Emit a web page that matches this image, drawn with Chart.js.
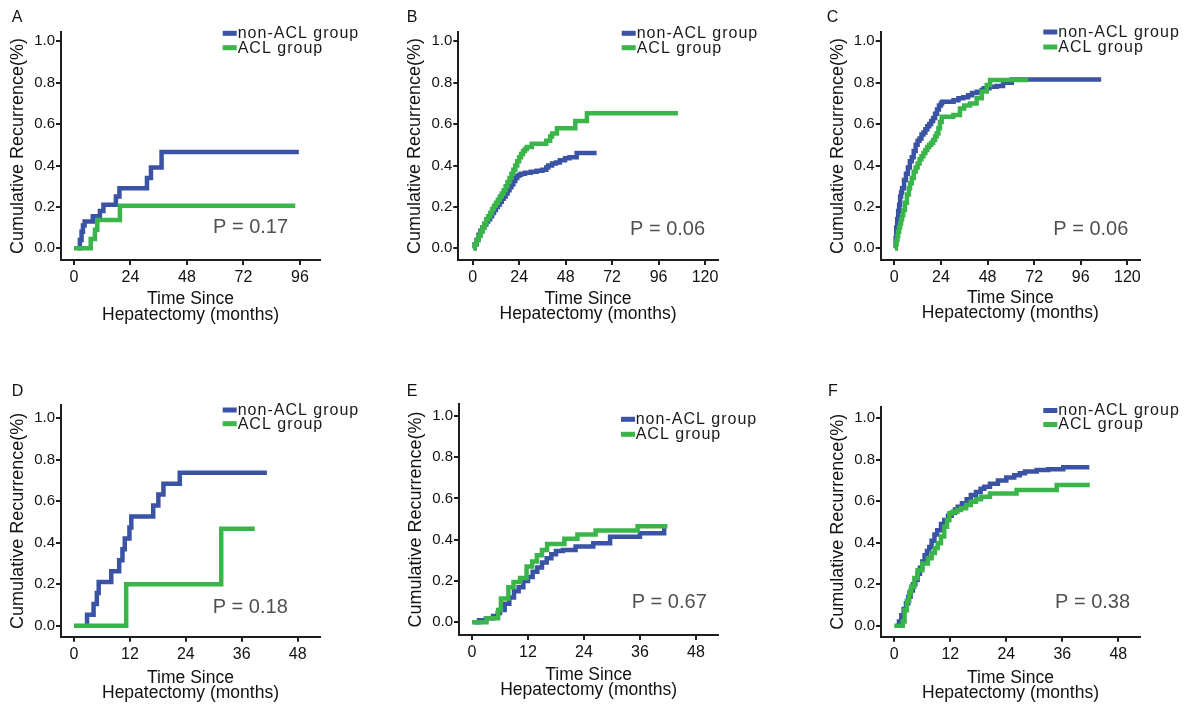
<!DOCTYPE html>
<html><head><meta charset="utf-8">
<script src="https://cdn.jsdelivr.net/npm/chart.js@4.4.1/dist/chart.umd.min.js"></script>
<style>
html,body{margin:0;padding:0;background:#fff;}
#wrap{position:relative;width:1194px;height:704px;overflow:hidden;background:#fff;}
#wrap canvas{position:absolute;left:0;top:0;}
</style></head><body><div id="wrap"></div>
<script>
// ---------- DATA ----------
const legendLabels = ['non-ACL group', 'ACL group'];
const panelLetters = ['A', 'B', 'C', 'D', 'E', 'F'];
const pValueLabels = ['P = 0.17', 'P = 0.06', 'P = 0.06', 'P = 0.18', 'P = 0.67', 'P = 0.38'];
const yTickValues = [0, 0.2, 0.4, 0.6, 0.8, 1.0];
const yTickLabels = ['0.0', '0.2', '0.4', '0.6', '0.8', '1.0'];
const xTicksA = [0, 24, 48, 72, 96];
const xTicksBC = [0, 24, 48, 72, 96, 120];
const xTicksDEF = [0, 12, 24, 36, 48];
const yTitleText = 'Cumulative Recurrence(%)';
const xTitleText = ['Time Since', 'Hepatectomy (months)'];

// Panel A
const aNonTime = [1.8, 2.5, 3.2, 3.8, 4.5, 8, 11, 12.5, 17.8, 19.3, 31, 32.7, 37.2, 95.5];
const aNonRec  = [0, 0.04, 0.08, 0.11, 0.13, 0.155, 0.18, 0.21, 0.25, 0.29, 0.34, 0.39, 0.465, 0.465];
const aAclTime = [0, 7.1, 8.9, 9.9, 19.5, 94];
const aAclRec  = [0, 0.045, 0.09, 0.137, 0.205, 0.205];

// Panel B
const bNonTime = [0.5, 1, 2, 3, 4, 5, 6, 7, 8, 9, 10, 11, 12, 13, 14, 15, 16, 17, 18, 19, 20, 21, 22, 23, 24, 25, 27, 30, 33, 36, 38, 39, 41, 43, 45, 47.7, 50, 53.7, 64];
const bNonRec  = [0, 0.02, 0.04, 0.065, 0.085, 0.1, 0.115, 0.13, 0.14, 0.155, 0.17, 0.185, 0.2, 0.212, 0.225, 0.24, 0.25, 0.265, 0.28, 0.295, 0.31, 0.325, 0.34, 0.35, 0.355, 0.36, 0.365, 0.37, 0.375, 0.38, 0.39, 0.40, 0.41, 0.415, 0.425, 0.435, 0.44, 0.46, 0.46];
const bAclTime = [0.3, 1, 2, 3, 4, 5, 6, 7, 8, 9, 10, 11, 12, 13, 14, 15, 16, 17, 18, 19, 20, 21, 22, 23, 24, 25, 26, 27, 28, 30.5, 38, 40, 41, 43.5, 53, 59, 106];
const bAclRec  = [0, 0.02, 0.04, 0.06, 0.08, 0.1, 0.12, 0.14, 0.155, 0.17, 0.19, 0.205, 0.22, 0.235, 0.25, 0.265, 0.28, 0.30, 0.32, 0.34, 0.36, 0.38, 0.40, 0.42, 0.44, 0.455, 0.47, 0.48, 0.49, 0.505, 0.52, 0.54, 0.555, 0.58, 0.615, 0.652, 0.652];

// Panel C
const cNonTime = [0.4, 0.7, 1.0, 1.5, 2, 2.5, 3, 3.5, 4, 5, 6, 7, 8, 9, 10, 11, 12, 13, 14, 15, 16, 17, 18, 19, 20, 21, 22, 23, 24, 24.6, 30.5, 33, 35.5, 38, 40, 42.5, 45, 46, 49, 52.7, 56, 60.5, 106.5];
const cNonRec  = [0, 0.05, 0.1, 0.14, 0.18, 0.21, 0.25, 0.27, 0.29, 0.33, 0.36, 0.39, 0.42, 0.44, 0.47, 0.50, 0.52, 0.53, 0.55, 0.56, 0.575, 0.59, 0.60, 0.615, 0.63, 0.65, 0.67, 0.69, 0.70, 0.708, 0.715, 0.725, 0.73, 0.74, 0.75, 0.756, 0.765, 0.773, 0.78, 0.784, 0.80, 0.815, 0.815];
const cAclTime = [0.4, 0.8, 1.2, 1.6, 2, 2.5, 3, 3.5, 4, 4.6, 5.5, 6.5, 7.5, 8.1, 9, 10, 11, 12, 13, 14, 15, 16, 17, 18, 19, 20, 21, 21.8, 22.7, 23.5, 24.4, 30.4, 33.8, 36, 39, 42.4, 45, 47.6, 49.3, 69];
const cAclRec  = [0, 0.02, 0.04, 0.06, 0.08, 0.1, 0.12, 0.14, 0.16, 0.185, 0.22, 0.26, 0.29, 0.314, 0.34, 0.37, 0.39, 0.41, 0.43, 0.445, 0.46, 0.475, 0.49, 0.5, 0.51, 0.523, 0.54, 0.555, 0.58, 0.61, 0.636, 0.644, 0.676, 0.69, 0.70, 0.725, 0.757, 0.789, 0.813, 0.813];

// Panel D
const dNonTime = [2.6, 2.8, 4.2, 4.9, 5.3, 8.0, 9.7, 10.4, 10.9, 11.9, 12.3, 17.0, 18.1, 19.2, 22.7, 41.4];
const dNonRec  = [0, 0.053, 0.105, 0.158, 0.211, 0.263, 0.316, 0.368, 0.421, 0.474, 0.526, 0.579, 0.632, 0.684, 0.737, 0.737];
const dAclTime = [0, 11.2, 31.6, 38.8];
const dAclRec  = [0, 0.2, 0.467, 0.467];

// Panel E
const eNonTime = [0.4, 1.5, 3, 4.5, 5.5, 6, 7, 8, 9, 10, 11, 12, 13, 14, 15, 16, 17, 18, 19.5, 22.2, 26, 29.6, 36, 41.2, 41.6];
const eNonRec  = [0, 0.01, 0.02, 0.03, 0.045, 0.06, 0.09, 0.12, 0.15, 0.17, 0.2, 0.22, 0.245, 0.265, 0.29, 0.31, 0.33, 0.345, 0.35, 0.367, 0.383, 0.415, 0.431, 0.46, 0.46];
const eAclTime = [0, 3.1, 5.6, 6.2, 7.8, 8.9, 10.3, 11.7, 12.9, 13.9, 15.0, 16.1, 19.8, 22.6, 26.5, 35.5, 41.9];
const eAclRec  = [0, 0.02, 0.06, 0.115, 0.17, 0.195, 0.215, 0.27, 0.295, 0.325, 0.35, 0.38, 0.405, 0.425, 0.445, 0.465, 0.465];

// Panel F
const fNonTime = [0.4, 1, 1.5, 2, 2.5, 3, 3.5, 4, 4.5, 5, 5.5, 6, 6.5, 7, 7.5, 8, 8.6, 9.2, 10, 10.7, 11.5, 12.3, 13, 13.6, 14.5, 15.5, 16.4, 17.5, 18.5, 19.3, 20.5, 22.2, 24, 25.7, 26.9, 28, 30.5, 33, 36.2, 41.8];
const fNonRec  = [0, 0.02, 0.05, 0.08, 0.108, 0.14, 0.17, 0.2, 0.22, 0.25, 0.28, 0.31, 0.34, 0.36, 0.38, 0.41, 0.44, 0.46, 0.49, 0.51, 0.53, 0.545, 0.56, 0.574, 0.59, 0.61, 0.63, 0.645, 0.66, 0.67, 0.685, 0.70, 0.715, 0.726, 0.735, 0.743, 0.751, 0.755, 0.764, 0.764];
const fAclTime = [0, 1.8, 2.2, 2.7, 3.2, 3.6, 4.3, 5, 6, 7.2, 8, 8.7, 9.3, 10, 10.7, 11.3, 11.8, 12.5, 13.5, 14.3, 15.4, 16.4, 17.5, 18.6, 20.5, 26.2, 34.8, 41.9];
const fAclRec  = [0, 0.02, 0.075, 0.12, 0.16, 0.188, 0.23, 0.268, 0.3, 0.325, 0.35, 0.375, 0.397, 0.43, 0.477, 0.51, 0.542, 0.55, 0.558, 0.566, 0.582, 0.598, 0.61, 0.622, 0.638, 0.654, 0.678, 0.678];

// ---------- LAYOUT / STYLE ----------
const W = 1194, H = 704;
const FONT = '"Liberation Sans", Arial, Helvetica, sans-serif';
const BLUE = '#3A53A4', GREEN = '#3AB54A', AXIS = '#1e1e1e';
const Y_AXIS_W = 51;
const X_TITLE_SIZE = 17.5, X_TITLE_LH = 15.3;

const panels = [
  { non: [aNonTime, aNonRec], acl: [aAclTime, aAclRec], xTicks: xTicksA,
    area: [61, 32, 320, 260], xr: [-5.52, 104.5], yr: [-0.0565, 1.045], xTitleY: 314.8,
    letter: [11.7, 21.7], legend: { sx: 222.7, tx: 237.7, y1: 33.3, dy: 14.4 }, p: [213, 233] },
  { non: [bNonTime, bNonRec], acl: [bAclTime, bAclRec], xTicks: xTicksBC,
    area: [458.3, 32, 717.7, 260], xr: [-7.44, 126.55], yr: [-0.0565, 1.045], xTitleY: 314.5,
    letter: [406.7, 21.7], legend: { sx: 621.7, tx: 636.7, y1: 33.3, dy: 14.4 }, p: [630, 235] },
  { non: [cNonTime, cNonRec], acl: [cAclTime, cAclRec], xTicks: xTicksBC,
    area: [880.7, 32, 1140, 260], xr: [-7.0, 126.5], yr: [-0.0565, 1.045], xTitleY: 313,
    letter: [826.7, 21.7], legend: { sx: 1043.3, tx: 1058.3, y1: 32, dy: 15 }, p: [1053.3, 235] },
  { non: [dNonTime, dNonRec], acl: [dAclTime, dAclRec], xTicks: xTicksDEF,
    area: [61, 405, 320, 636.7], xr: [-2.79, 52.8], yr: [-0.053, 1.064], xTitleY: 693.5,
    letter: [11.7, 396], legend: { sx: 222.7, tx: 237.7, y1: 410, dy: 13.7 }, p: [212.7, 612.7] },
  { non: [eNonTime, eNonRec], acl: [eAclTime, eAclRec], xTicks: xTicksDEF,
    area: [459, 404, 718.3, 635], xr: [-2.79, 52.8], yr: [-0.0616, 1.058], xTitleY: 690.3,
    letter: [406.7, 396], legend: { sx: 621, tx: 635.7, y1: 419.3, dy: 15 }, p: [631.7, 608.3] },
  { non: [fNonTime, fNonRec], acl: [fAclTime, fAclRec], xTicks: xTicksDEF,
    area: [881, 406.7, 1140, 636.7], xr: [-2.85, 52.65], yr: [-0.053, 1.056], xTitleY: 693.5,
    letter: [828, 396], legend: { sx: 1043.3, tx: 1058.3, y1: 410.5, dy: 14 }, p: [1055, 608.3] }
];

const toPoints = (ts, vs) => ts.map((t, i) => ({ x: t, y: vs[i] }));

const annotatePlugin = {
  id: 'annotate',
  afterDraw(chart, args, opts) {
    const ctx = chart.ctx;
    const P = opts.panel;
    ctx.save();
    // panel letter
    ctx.font = '16px ' + FONT;
    ctx.fillStyle = '#111';
    ctx.textAlign = 'left';
    ctx.textBaseline = 'alphabetic';
    ctx.fillText(opts.letter, P.letter[0], P.letter[1]);
    // legend
    const lg = P.legend;
    chart.data.datasets.forEach((ds, i) => {
      const y = lg.y1 + i * lg.dy;
      ctx.fillStyle = ds.borderColor;
      ctx.fillRect(lg.sx, y - 2.5, 14, 5);
      ctx.fillStyle = '#1a1a1a';
      ctx.font = '16px ' + FONT;
      ctx.textBaseline = 'middle';
      try { ctx.letterSpacing = '1px'; } catch (e) {}
      ctx.fillText(ds.label, lg.tx, y + 0.5);
      try { ctx.letterSpacing = '0px'; } catch (e) {}
    });
    // p value
    ctx.font = '20px ' + FONT;
    ctx.fillStyle = '#505050';
    ctx.textBaseline = 'alphabetic';
    ctx.fillText(opts.pText, P.p[0], P.p[1]);
    ctx.restore();
  }
};

const wrap = document.getElementById('wrap');
panels.forEach((P, idx) => {
  const cv = document.createElement('canvas');
  cv.width = W; cv.height = H;
  cv.style.width = W + 'px'; cv.style.height = H + 'px';
  wrap.appendChild(cv);
  const [L, T, R, B] = P.area;
  const xAxisH = P.xTitleY + X_TITLE_LH / 2 - B;
  new Chart(cv, {
    type: 'line',
    data: {
      datasets: [
        { label: legendLabels[0], data: toPoints(P.non[0], P.non[1]), borderColor: BLUE, backgroundColor: BLUE,
          borderWidth: 4.5, pointRadius: 0, stepped: 'before', fill: false, order: 1, borderCapStyle: 'butt', borderJoinStyle: 'miter' },
        { label: legendLabels[1], data: toPoints(P.acl[0], P.acl[1]), borderColor: GREEN, backgroundColor: GREEN,
          borderWidth: 4.5, pointRadius: 0, stepped: 'before', fill: false, order: 0, borderCapStyle: 'butt', borderJoinStyle: 'miter' }
      ]
    },
    options: {
      responsive: false,
      animation: false,
      devicePixelRatio: 1,
      events: [],
      layout: { padding: { left: L - Y_AXIS_W, top: T, right: W - R, bottom: H - B - xAxisH } },
      plugins: {
        legend: { display: false },
        tooltip: { enabled: false },
        annotate: { panel: P, letter: panelLetters[idx], pText: pValueLabels[idx] }
      },
      scales: {
        x: {
          type: 'linear', position: 'bottom', min: P.xr[0], max: P.xr[1],
          afterBuildTicks: ax => { ax.ticks = P.xTicks.map(v => ({ value: v })); },
          afterFit: s => { s.height = xAxisH; },
          ticks: { font: { size: 16, family: FONT }, color: '#111', padding: 3, maxRotation: 0, autoSkip: false,
                   callback: v => String(v) },
          grid: { display: true, drawOnChartArea: false, drawTicks: true, tickLength: 5, color: AXIS, lineWidth: 2 },
          border: { display: true, color: AXIS, width: 2 },
          title: { display: true, text: xTitleText, color: '#111', padding: { top: 0, bottom: 0 },
                   font: { size: X_TITLE_SIZE, family: FONT, lineHeight: X_TITLE_LH + 'px' } }
        },
        y: {
          type: 'linear', position: 'left', min: P.yr[0], max: P.yr[1],
          afterBuildTicks: ax => { ax.ticks = yTickValues.map(v => ({ value: v })); },
          afterFit: s => { s.width = Y_AXIS_W; },
          ticks: { font: { size: 15, family: FONT }, color: '#111', padding: 1, autoSkip: false,
                   callback: v => yTickLabels[yTickValues.findIndex(t => Math.abs(t - v) < 1e-9)] },
          grid: { display: true, drawOnChartArea: false, drawTicks: true, tickLength: 5, color: AXIS, lineWidth: 2 },
          border: { display: true, color: AXIS, width: 2 },
          title: { display: true, text: yTitleText, color: '#111', padding: { top: 0, bottom: 0 },
                   font: { size: 18, family: FONT, lineHeight: 0.9 } }
        }
      }
    },
    plugins: [annotatePlugin]
  });
});
</script>
</body></html>
